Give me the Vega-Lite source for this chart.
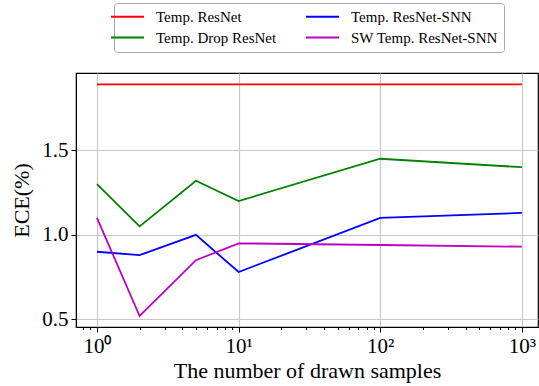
{
  "$schema": "https://vega.github.io/schema/vega-lite/v6.json",
  "width": 462,
  "height": 254,
  "autosize": {"type": "none"},
  "padding": {"left": 76, "top": 73, "right": 1, "bottom": 59},
  "config": {
    "font": "Liberation Serif",
    "style": {"guide-label": {"font": "Liberation Serif", "fontWeight": "normal"}, "guide-title": {"font": "Liberation Serif", "fontWeight": "normal"}},
    "view": {"stroke": "black", "strokeWidth": 1.2},
    "axis": {"domainColor": "black", "tickColor": "black", "labelColor": "black", "titleColor": "black", "gridColor": "#c8c8c8", "gridWidth": 1.2, "labelFont": "Liberation Serif", "titleFont": "Liberation Serif", "titleFontWeight": "normal"},
    "legend": {"labelFont": "Liberation Serif", "labelColor": "black"}
  },
  "data": {
    "values": [
      {"n": 1, "ece": 1.89, "model": "Temp. ResNet"},
      {"n": 2, "ece": 1.89, "model": "Temp. ResNet"},
      {"n": 5, "ece": 1.89, "model": "Temp. ResNet"},
      {"n": 10, "ece": 1.89, "model": "Temp. ResNet"},
      {"n": 100, "ece": 1.89, "model": "Temp. ResNet"},
      {"n": 1000, "ece": 1.89, "model": "Temp. ResNet"},
      {"n": 1, "ece": 1.30, "model": "Temp. Drop ResNet"},
      {"n": 2, "ece": 1.05, "model": "Temp. Drop ResNet"},
      {"n": 5, "ece": 1.32, "model": "Temp. Drop ResNet"},
      {"n": 10, "ece": 1.20, "model": "Temp. Drop ResNet"},
      {"n": 100, "ece": 1.45, "model": "Temp. Drop ResNet"},
      {"n": 1000, "ece": 1.40, "model": "Temp. Drop ResNet"},
      {"n": 1, "ece": 0.90, "model": "Temp. ResNet-SNN"},
      {"n": 2, "ece": 0.88, "model": "Temp. ResNet-SNN"},
      {"n": 5, "ece": 1.00, "model": "Temp. ResNet-SNN"},
      {"n": 10, "ece": 0.78, "model": "Temp. ResNet-SNN"},
      {"n": 100, "ece": 1.10, "model": "Temp. ResNet-SNN"},
      {"n": 1000, "ece": 1.13, "model": "Temp. ResNet-SNN"},
      {"n": 1, "ece": 1.10, "model": "SW Temp. ResNet-SNN"},
      {"n": 2, "ece": 0.52, "model": "SW Temp. ResNet-SNN"},
      {"n": 5, "ece": 0.85, "model": "SW Temp. ResNet-SNN"},
      {"n": 10, "ece": 0.95, "model": "SW Temp. ResNet-SNN"},
      {"n": 100, "ece": 0.94, "model": "SW Temp. ResNet-SNN"},
      {"n": 1000, "ece": 0.93, "model": "SW Temp. ResNet-SNN"}
    ]
  },
  "mark": {"type": "line", "strokeWidth": 1.8},
  "encoding": {
    "x": {
      "field": "n", "type": "quantitative",
      "scale": {"type": "log", "domain": [0.711, 1300], "nice": false},
      "axis": {
        "values": [0.8, 0.9, 1, 2, 3, 4, 5, 6, 7, 8, 9, 10, 20, 30, 40, 50, 60, 70, 80, 90, 100, 200, 300, 400, 500, 600, 700, 800, 900, 1000],
        "labelExpr": "datum.value == 1 ? '10⁰' : datum.value == 10 ? '10¹' : datum.value == 100 ? '10²' : datum.value == 1000 ? '10³' : ''",
        "tickSize": {"condition": {"test": "datum.value == 1 || datum.value == 10 || datum.value == 100 || datum.value == 1000", "value": 5}, "value": 2.5},
        "gridOpacity": {"condition": {"test": "datum.value == 1 || datum.value == 10 || datum.value == 100 || datum.value == 1000", "value": 1}, "value": 0},
        "labelFont": "Liberation Serif",
        "labelFontSize": 21,
        "labelPadding": 3,
        "labelFlush": false,
        "labelOverlap": false,
        "title": "The number of drawn samples",
        "titleFontSize": 22,
        "titlePadding": 4
      }
    },
    "y": {
      "field": "ece", "type": "quantitative",
      "scale": {"domain": [0.455, 1.957], "nice": false, "zero": false},
      "axis": {
        "values": [0.5, 1.0, 1.5],
        "format": ".1f",
        "tickSize": 5,
        "labelFont": "Liberation Serif",
        "labelFontSize": 21,
        "labelPadding": 3,
        "title": "ECE(%)",
        "titleFontSize": 22,
        "titlePadding": 8
      }
    },
    "color": {
      "field": "model", "type": "nominal",
      "scale": {
        "domain": ["Temp. ResNet", "Temp. ResNet-SNN", "Temp. Drop ResNet", "SW Temp. ResNet-SNN"],
        "range": ["#ff0000", "#0000ff", "#008000", "#bf00bf"]
      },
      "legend": {
        "title": null,
        "orient": "none",
        "legendX": 38,
        "legendY": -70,
        "columns": 2,
        "direction": "horizontal",
        "symbolType": "M-3,0H3",
        "symbolSize": 121,
        "symbolStrokeWidth": 2,
        "labelFont": "Liberation Serif",
        "labelFontSize": 15,
        "labelOffset": 21,
        "labelLimit": 300,
        "columnPadding": 25,
        "rowPadding": 5,
        "padding": 6,
        "strokeColor": "#aaaaaa",
        "fillColor": "white",
        "cornerRadius": 3
      }
    }
  }
}
